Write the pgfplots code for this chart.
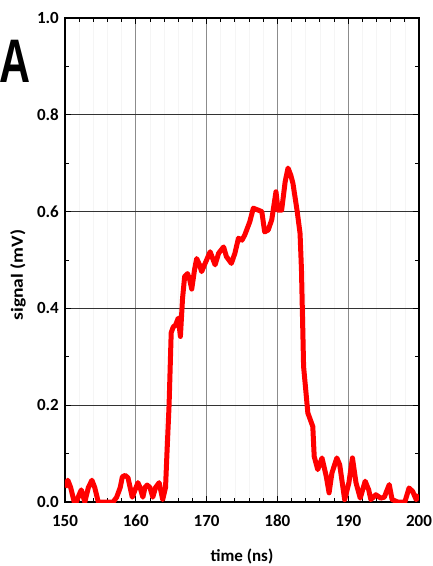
\documentclass[border=0pt]{standalone}
\usepackage{pgfplots}
\pgfplotsset{compat=1.18}
\usepackage{graphicx}
\usepackage{fontspec}
\setmainfont{Carlito}
\newfontfamily\arialfont{Liberation Sans}
\begin{document}
\begin{tikzpicture}[x=1pt,y=1pt]
\begin{axis}[
  at={(0,0)}, anchor=south west,
  scale only axis, width=354pt, height=484pt,
  xmin=150, xmax=200, ymin=0, ymax=1,
  xtick={150,160,170,180,190,200},
  xticklabels={150,160,170,180,190,200},
  ytick={0,0.2,0.4,0.6,0.8,1.0},
  yticklabels={0.0,0.2,0.4,0.6,0.8,1.0},
  minor x tick num=4, minor y tick num=1,
  tick align=inside, major tick length=6pt, minor tick length=4pt,
  every tick/.style={black, line width=0.9pt},
  axis line style={black, line width=1.3pt},
  xmajorgrids=true, ymajorgrids=true, xminorgrids=true,
  x grid style={black!45, line width=0.8pt},
  y grid style={black!80, line width=0.7pt},
  minor x grid style={black!4, line width=0.6pt},
  tick label style={font=\fontsize{17}{17}\selectfont\bfseries, inner sep=0pt},
  xticklabel style={yshift=-13pt},
  yticklabel style={xshift=-6pt},
  xlabel={time (ns)},
  ylabel={\scalebox{1.15}[1]{signal (mV)}},
  label style={font=\fontsize{17}{17}\selectfont\bfseries, inner sep=0pt},
  xlabel style={at={(axis description cs:0.5,0)}, anchor=center, yshift=-54pt},
  ylabel style={at={(axis description cs:-0.1328,0.469)}, anchor=center},
]
\addplot[color={rgb,255:red,255;green,0;blue,0}, line width=5pt, line join=round] coordinates {
(150.0,0.03)(150.4,0.045)(150.8,0.03)(151.3,0.0)(151.6,0.0)(152.0,0.015)(152.3,0.025)(152.8,0.0)(153.3,0.03)(153.8,0.045)(154.2,0.03)(154.7,0.0)(155.5,0.0)(156.8,0.0)(157.3,0.01)(157.8,0.03)(158.1,0.052)(158.5,0.055)(158.9,0.05)(159.5,0.01)(159.9,0.025)(160.3,0.04)(160.6,0.03)(161.0,0.01)(161.3,0.03)(161.6,0.035)(162.0,0.03)(162.4,0.01)(162.8,0.03)(163.3,0.04)(163.8,0.005)(164.2,0.03)(164.4,0.1)(164.7,0.2)(165.0,0.35)(165.3,0.362)(165.6,0.365)(166.0,0.38)(166.3,0.342)(166.6,0.42)(166.9,0.466)(167.3,0.472)(167.6,0.46)(167.9,0.44)(168.3,0.48)(168.6,0.503)(169.0,0.49)(169.3,0.476)(169.7,0.49)(170.0,0.50)(170.5,0.517)(171.2,0.49)(171.7,0.514)(172.4,0.527)(172.8,0.507)(173.5,0.493)(174.0,0.514)(174.5,0.545)(175.0,0.541)(175.4,0.552)(176.1,0.579)(176.6,0.607)(177.3,0.603)(177.8,0.60)(178.2,0.558)(178.7,0.562)(179.2,0.583)(179.8,0.641)(180.1,0.603)(180.6,0.603)(181.1,0.662)(181.5,0.69)(181.9,0.675)(182.2,0.658)(182.8,0.60)(183.2,0.555)(183.4,0.48)(183.7,0.28)(184.3,0.184)(185.0,0.156)(185.2,0.094)(185.7,0.067)(186.3,0.091)(186.9,0.053)(187.3,0.019)(187.7,0.06)(188.4,0.091)(188.8,0.077)(189.5,0.005)(190.1,0.04)(190.6,0.091)(191.1,0.04)(191.7,0.008)(192.4,0.043)(192.9,0.025)(193.2,0.005)(193.9,0.015)(194.6,0.008)(195.1,0.01)(195.8,0.036)(196.2,0.005)(197.0,0.0)(198.0,0.0)(198.6,0.029)(199.1,0.022)(199.6,0.005)(200.0,0.015)
};
\end{axis}
\node[inner sep=0pt, font=\arialfont\bfseries\fontsize{43}{43}\selectfont] at (-50pt,440.5pt) {\scalebox{1}[1.43]{A}};
\pgfresetboundingbox
\path (-65pt,-64pt) rectangle (367pt,502pt);
\end{tikzpicture}
\end{document}
